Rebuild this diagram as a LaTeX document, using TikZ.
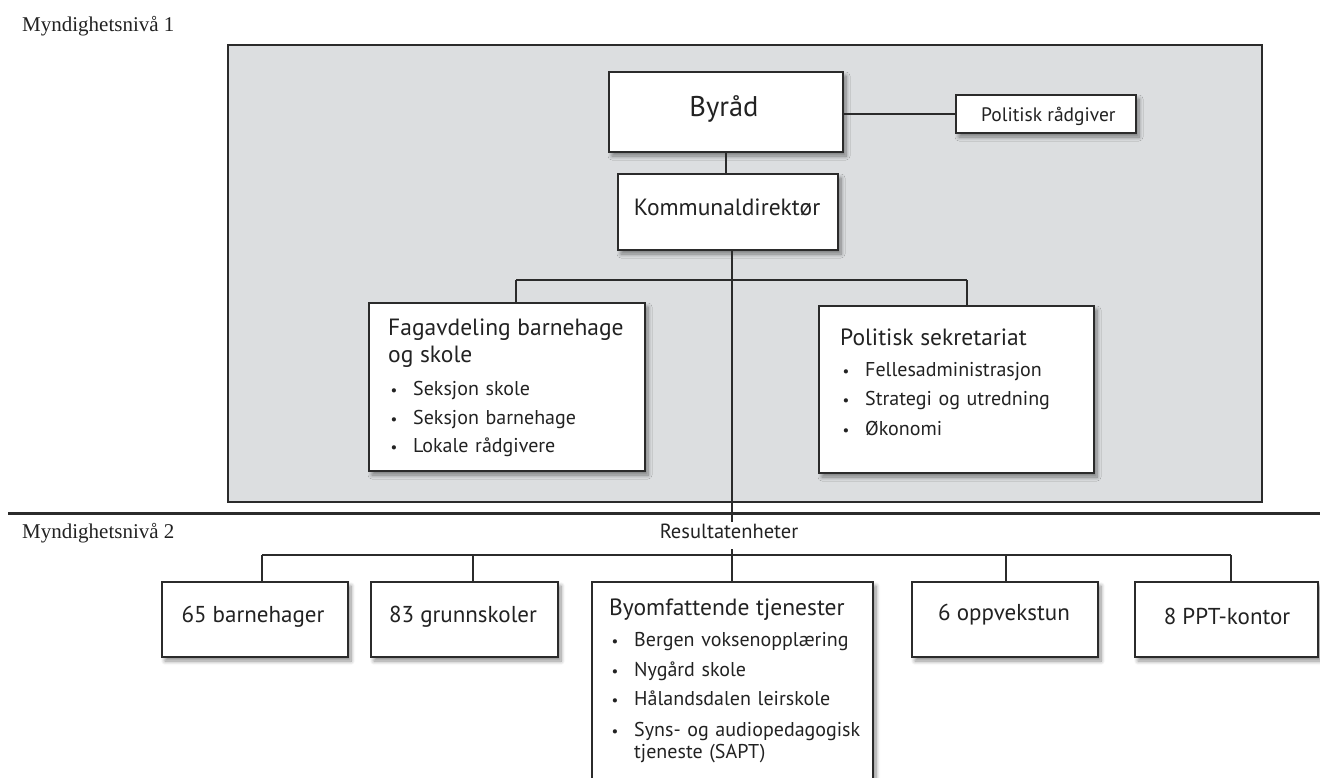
\documentclass[tikz,border=0pt]{standalone}
\usepackage{fontspec}
\setmainfont{Liberation Serif}
\setsansfont{PT Sans}
\usetikzlibrary{shadows.blur}
\definecolor{linec}{HTML}{2B2B2B}
\definecolor{greyc}{HTML}{DCDEE0}
\definecolor{textc}{HTML}{222222}
\newcommand\fs[2]{\fontsize{#1pt}{#2pt}\selectfont}
\newcommand\blt{\hspace*{2.5pt}\makebox[22.5pt][l]{\fs{15}{15}\textbullet}}
\newcommand\ind{\hspace*{25pt}}
\begin{document}
\begin{tikzpicture}[x=1pt,y=-1pt,
  box/.style={draw=linec, line width=2pt, fill=white, inner sep=0pt,
    blur shadow={shadow xshift=3pt, shadow yshift=-4pt, shadow blur steps=8,
      shadow opacity=45, shadow blur radius=4pt}},
  conn/.style={draw=linec, line width=2pt},
  sans/.style={font=\sffamily, text=textc, inner sep=0pt},
  serif/.style={font=\rmfamily\fs{21}{24}, text=textc, inner sep=0pt, anchor=base west},
  lbl/.style={sans, anchor=base},
  list/.style={sans, align=left, anchor=base west, text width=270pt},
]
\useasboundingbox (0,0) rectangle (1320,778);
\clip (0,0) rectangle (1320,778);

% level 1 area
\node[draw=linec, line width=2pt, fill=greyc, minimum width=1034, minimum height=457, inner sep=0pt] (lvl1) at (745,273.5) {};
\coordinate (sepL) at (8,513);
\coordinate (sepR) at (1320,513);
\draw[draw=linec, line width=3pt] (sepL) -- (sepR);

\node[serif] (niv1) at (22,32) {Myndighetsnivå 1};
\node[serif] (niv2) at (22,538) {Myndighetsnivå 2};

% connector points
\coordinate (h1L) at (516,280);
\coordinate (h1R) at (967,280);
\coordinate (stub1) at (732,522);
\coordinate (stub2) at (732,549);
\coordinate (h2L) at (262,555);
\coordinate (h2R) at (1231,555);
\coordinate (t83) at (473,555);
\coordinate (t6) at (1006,555);

% boxes
\node[box, minimum width=234, minimum height=80] (byrad) at (726,112) {};
\node[box, minimum width=180, minimum height=38] (polr) at (1046,114) {};
\node[box, minimum width=220, minimum height=76] (komm) at (728,212) {};
\node[box, minimum width=276, minimum height=168] (fag) at (507,387) {};
\node[box, minimum width=275, minimum height=167] (pols) at (956.5,389.5) {};
\node[box, minimum width=186, minimum height=75] (b65) at (255,619.5) {};
\node[box, minimum width=187, minimum height=75] (g83) at (464.5,619.5) {};
\node[box, minimum width=281, minimum height=218] (byo) at (732.5,691) {};
\node[box, minimum width=186, minimum height=75] (opp) at (1005,619.5) {};
\node[box, minimum width=183, minimum height=75] (ppt) at (1226.5,619.5) {};

% connectors
\draw[conn] (byrad.south) -- (byrad.south |- komm.north);
\draw[conn] (polr.west -| byrad.east) -- (polr.west);
\draw[conn] (komm.south -| stub1) -- (stub1);
\draw[conn] (h1L) -- (h1R);
\draw[conn] (h1L) -- (h1L |- fag.north);
\draw[conn] (h1R) -- (h1R |- pols.north);
\draw[conn] (stub2) -- (stub2 |- byo.north);
\draw[conn] (h2L) -- (h2R);
\draw[conn] (h2L) -- (h2L |- b65.north);
\draw[conn] (t83) -- (t83 |- g83.north);
\draw[conn] (t6) -- (t6 |- opp.north);
\draw[conn] (h2R) -- (h2R |- ppt.north);

% texts
\node[lbl, font=\sffamily\fs{28.5}{32}] (byradt) at (724,117) {Byråd};
\node[sans, anchor=base west, font=\sffamily\fs{19.5}{22}] (polrt) at (981,122) {Politisk rådgiver};
\node[lbl, font=\sffamily\fs{23.5}{26}] (kommt) at (727,216) {Kommunaldirektør};
\node[lbl, font=\sffamily\fs{20.5}{22}] (res) at (729,538) {Resultatenheter};
\node[lbl, font=\sffamily\fs{23}{26}] (b65t) at (253,622) {65 barnehager};
\node[lbl, font=\sffamily\fs{23}{26}] (g83t) at (463,622) {83 grunnskoler};
\node[lbl, font=\sffamily\fs{23}{26}] (oppt) at (1004,620) {6 oppvekstun};
\node[lbl, font=\sffamily\fs{23}{26}] (pptt) at (1227,624) {8 PPT-kontor};

\node[list, font=\sffamily\fs{20}{28.5}] (fagt) at (388,335)
  {{\fs{23.5}{28.5}Fagavdeling barnehage}\\[-1.5pt]{\fs{23.5}{28.5}og skole}\\[5pt]
   \blt Seksjon skole\\\blt Seksjon barnehage\\\blt Lokale rådgivere};
\node[list, font=\sffamily\fs{20}{29.5}] (polst) at (840,345)
  {{\fs{23.5}{29.5}Politisk sekretariat}\\[1.5pt]
   \blt Fellesadministrasjon\\\blt Strategi og utredning\\\blt Økonomi};
\node[list, font=\sffamily\fs{20}{29.5}] (byot) at (609,615)
  {{\fs{23.5}{29.5}Byomfattende tjenester}\\[2pt]
   \blt Bergen voksenopplæring\\\blt Nygård skole\\\blt Hålandsdalen leirskole\\[1pt]
   \blt Syns- og audiopedagogisk\\[-7.5pt]\ind tjeneste (SAPT)};
\end{tikzpicture}
\end{document}
